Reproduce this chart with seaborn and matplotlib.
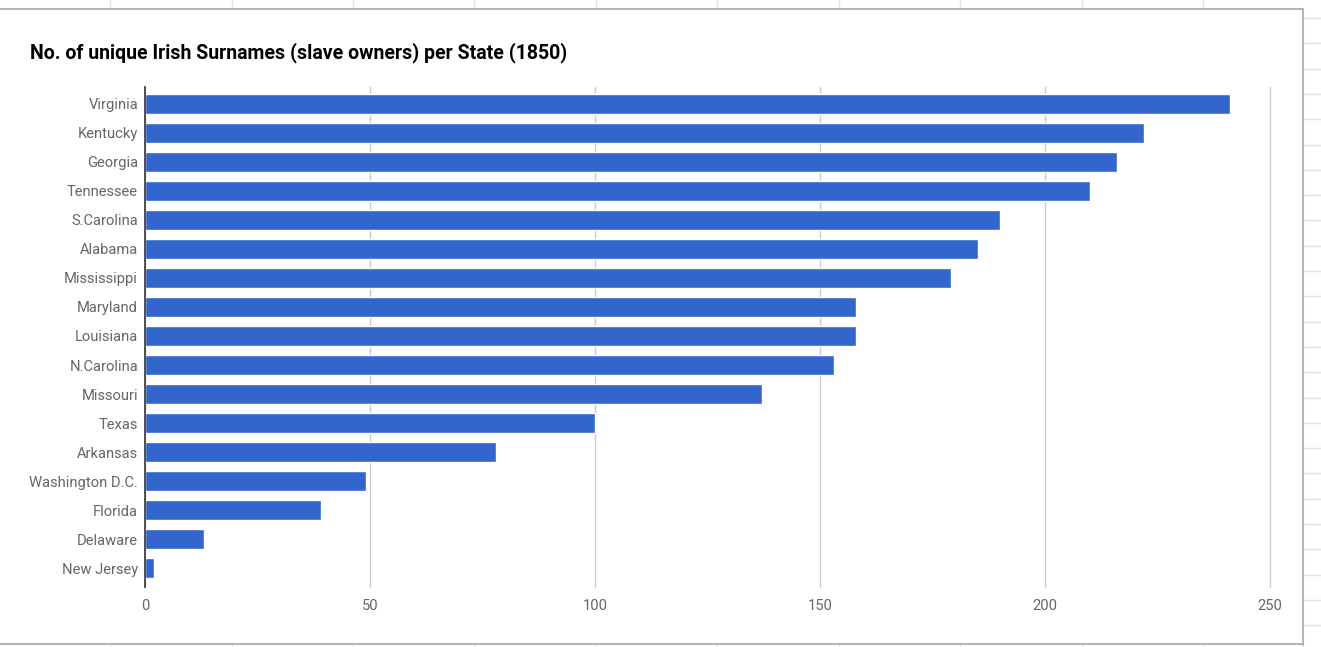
import matplotlib
matplotlib.use("Agg")
import matplotlib.pyplot as plt
from matplotlib.lines import Line2D
import seaborn as sns
import pandas as pd

states = ["Virginia", "Kentucky", "Georgia", "Tennessee", "S.Carolina", "Alabama",
          "Mississippi", "Maryland", "Louisiana", "N.Carolina", "Missouri", "Texas",
          "Arkansas", "Washington D.C.", "Florida", "Delaware", "New Jersey"]
counts = [241, 222, 216, 210, 190, 185, 179, 158, 158, 153, 137, 100, 78, 49, 39, 13, 2]
xticks = [0, 50, 100, 150, 200, 250]
title = "No. of unique Irish Surnames (slave owners) per State (1850)"

df = pd.DataFrame({"State": states, "Count": counts})

sns.set_theme(style="white")
plt.rcParams["font.family"] = ["Roboto", "DejaVu Sans"]

W, H = 1321, 647
fig = plt.figure(figsize=(W / 100, H / 100), dpi=100)
fig.patch.set_facecolor("white")

def fx(px):
    return px / W

def fy(py):
    return 1 - py / H

# spreadsheet background grid (decorative)
gcol = "#e3e3e3"
for x in [110, 232, 353, 474, 596, 717, 839, 960, 1082, 1203]:
    fig.add_artist(Line2D([fx(x), fx(x)], [fy(0), fy(9)], color=gcol, lw=1))
    fig.add_artist(Line2D([fx(x), fx(x)], [fy(645), fy(647)], color=gcol, lw=1))
yy = 18.0
while yy < H:
    fig.add_artist(Line2D([fx(1303), fx(1321)], [fy(yy), fy(yy)], color=gcol, lw=1))
    yy += 25.3
# chart frame
fcol = "#b5b5b5"
fig.add_artist(Line2D([fx(0), fx(1303)], [fy(9), fy(9)], color=fcol, lw=1.5))
fig.add_artist(Line2D([fx(1303), fx(1303)], [fy(9), fy(645)], color=fcol, lw=1.5))
fig.add_artist(Line2D([fx(0), fx(1303)], [fy(644), fy(644)], color=fcol, lw=1.5))

ax = fig.add_axes([fx(145), fy(587), fx(1270) - fx(145), fy(87) - fy(587)])
sns.barplot(data=df, x="Count", y="State", orient="h", color="#3366cc",
            saturation=1, width=0.66, ax=ax)

ax.set_xlim(0, 250)
ax.set_ylim(len(states) - 1 + 0.655, -0.586)
ax.set_xticks(xticks)
ax.set_xticklabels([str(t) for t in xticks])
ax.grid(axis="x", color="#cccccc", lw=1)
for gl in ax.get_xgridlines():
    gl.set_clip_on(False)
ax.set_axisbelow(True)
for s in ["top", "right", "bottom"]:
    ax.spines[s].set_visible(False)
ax.spines["left"].set_color("#333333")
ax.spines["left"].set_linewidth(1.2)
ax.spines["left"].set_zorder(5)
ax.set_xlabel("")
ax.set_ylabel("")
ax.tick_params(axis="both", length=0, labelsize=10.6, labelcolor="#666666")
ax.tick_params(axis="x", pad=9)
ax.tick_params(axis="y", pad=5)

fig.text(fx(30), fy(53), title, fontsize=14.05, fontweight="bold", color="#000000",
         ha="left", va="center")

fig.savefig("out.png", dpi=100, facecolor="white")
